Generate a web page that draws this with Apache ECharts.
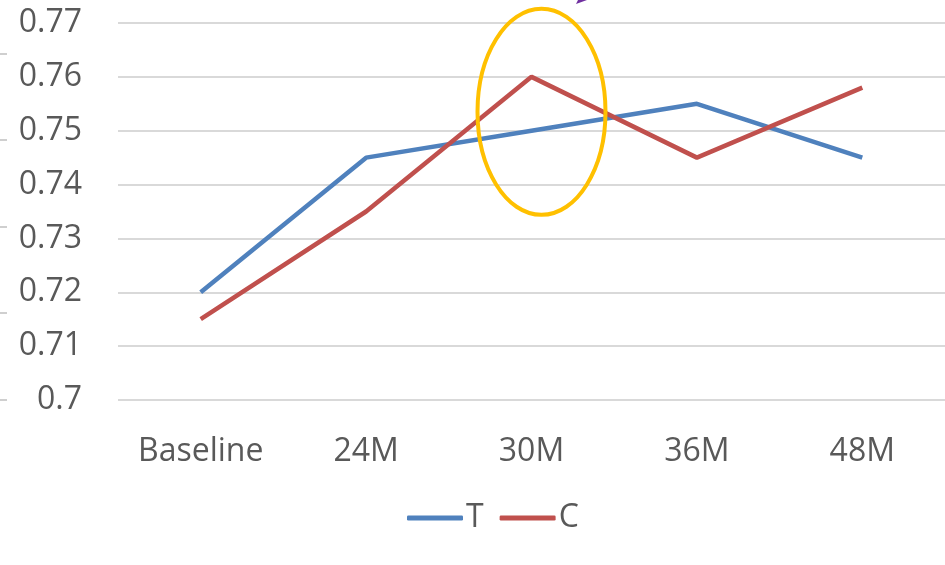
<!DOCTYPE html>
<html>
<head>
<meta charset="utf-8">
<script src="https://cdn.jsdelivr.net/npm/echarts@6/dist/echarts.min.js"></script>
<style>html,body{margin:0;padding:0;background:#fff;}#c{width:945px;height:565px;}</style>
</head>
<body>
<div id="c"></div>
<script>
var categories = ['Baseline', '24M', '30M', '36M', '48M'];
var seriesT = [0.72, 0.745, 0.75, 0.755, 0.745];
var seriesC = [0.715, 0.735, 0.76, 0.745, 0.758];
var yTicks = [0.7, 0.71, 0.72, 0.73, 0.74, 0.75, 0.76, 0.77];

var chart = echarts.init(document.getElementById('c'));
var font = '"Open Sans", Lato, sans-serif';
var option = {
  animation: false,
  grid: { left: 118, right: -4, top: 23, bottom: 165, containLabel: false },
  legend: {
    data: ['T', 'C'], bottom: 26, left: 402,
    itemWidth: 56, itemHeight: 5, itemGap: 16,
    textStyle: { fontFamily: font, fontSize: 32, color: '#595959', padding: [0, 0, 0, -2] },
    icon: 'roundRect'
  },
  xAxis: {
    type: 'category', data: categories, boundaryGap: true,
    axisLine: { show: false }, axisTick: { show: false },
    axisLabel: { fontFamily: font, fontSize: 32, color: '#595959', margin: 36 }
  },
  yAxis: {
    type: 'value', min: 0.7, max: 0.77, interval: 0.01,
    axisLine: { show: false }, axisTick: { show: false },
    splitLine: { lineStyle: { color: '#D9D9D9', width: 2 } },
    axisLabel: {
      fontFamily: font, fontSize: 32, color: '#595959', margin: 36,
      formatter: function (v) { return String(Math.round(v * 100) / 100); }
    }
  },
  series: [
    { name: 'T', type: 'line', data: seriesT, symbol: 'none', lineStyle: { color: '#4F81BD', width: 4.5 }, itemStyle: { color: '#4F81BD' } },
    { name: 'C', type: 'line', data: seriesC, symbol: 'none', lineStyle: { color: '#C0504D', width: 4.5 }, itemStyle: { color: '#C0504D' } }
  ]
};
chart.setOption(option);

var p = chart.convertToPixel({ gridIndex: 0 }, [2, 0.7535]);
var ticksG = [54, 140, 227, 313, 400].map(function (y) {
  return { type: 'line', shape: { x1: 0, y1: y, x2: 7, y2: y }, style: { stroke: '#BFBFBF', lineWidth: 1.5 } };
});
chart.setOption({
  graphic: [
    { type: 'ellipse', shape: { cx: p[0] + 10, cy: p[1], rx: 64, ry: 103 }, style: { fill: 'none', stroke: '#FFC000', lineWidth: 4 }, z: 100 },
    { type: 'polygon', shape: { points: [[576, 4], [587, 0], [578, 0]] }, style: { fill: '#7030A0' }, z: 100 }
  ].concat(ticksG)
});
</script>
</body>
</html>
